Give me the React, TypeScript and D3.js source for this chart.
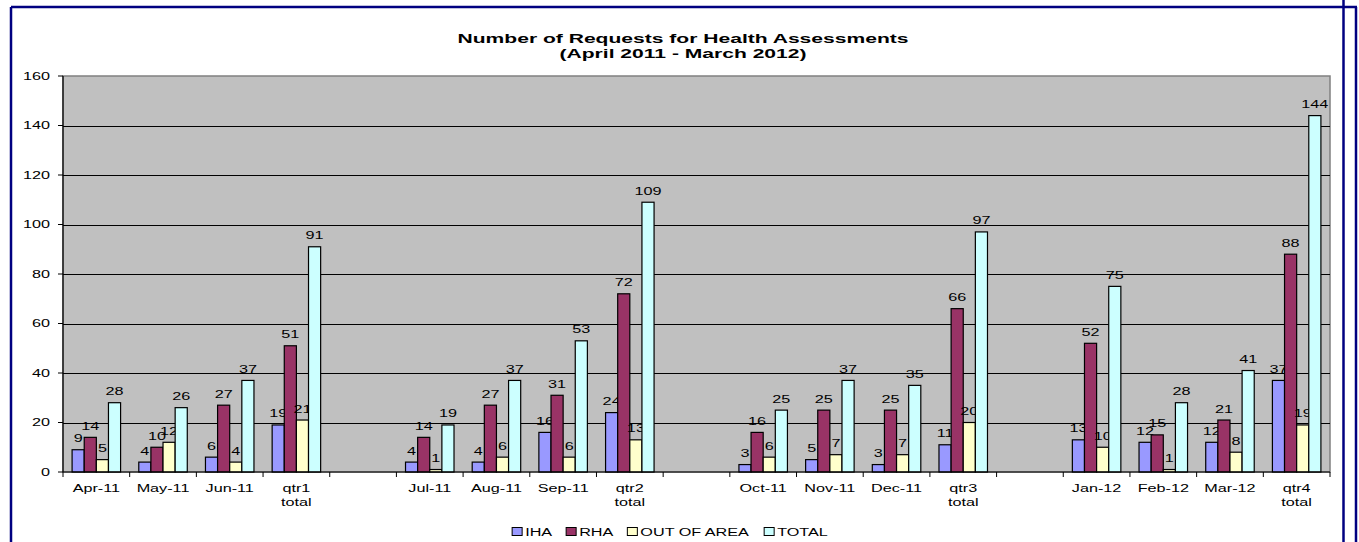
import React from "react";
import * as d3 from "d3";

// Monthly and quarterly request counts
const categories: string[][] = [
  ["Apr-11"], ["May-11"], ["Jun-11"], ["qtr1", "total"], [],
  ["Jul-11"], ["Aug-11"], ["Sep-11"], ["qtr2", "total"], [],
  ["Oct-11"], ["Nov-11"], ["Dec-11"], ["qtr3", "total"], [],
  ["Jan-12"], ["Feb-12"], ["Mar-12"], ["qtr4", "total"],
];

const seriesNames = ["IHA", "RHA", "OUT OF AREA", "TOTAL"];
const seriesColors = ["#9999FF", "#993366", "#FFFFCC", "#CCFFFF"];

const ihaValues: (number | null)[] = [9, 4, 6, 19, null, 4, 4, 16, 24, null, 3, 5, 3, 11, null, 13, 12, 12, 37];
const rhaValues: (number | null)[] = [14, 10, 27, 51, null, 14, 27, 31, 72, null, 16, 25, 25, 66, null, 52, 15, 21, 88];
const outOfAreaValues: (number | null)[] = [5, 12, 4, 21, null, 1, 6, 6, 13, null, 6, 7, 7, 20, null, 10, 1, 8, 19];
const totalValues: (number | null)[] = [28, 26, 37, 91, null, 19, 37, 53, 109, null, 25, 37, 35, 97, null, 75, 28, 41, 144];

const yTicks = [0, 20, 40, 60, 80, 100, 120, 140, 160];

const titleLines = ["Number of Requests for Health Assessments", "(April 2011 - March 2012)"];

const W = 1359;
const H = 542;
const SX = 1.62; // horizontal text stretch
const FONT = "'Liberation Sans', Arial, sans-serif";

const plot = { left: 63, right: 1330, top: 76, bottom: 472 };

function measure(text: string, size: number, weight = "normal"): number {
  const c = document.createElement("canvas").getContext("2d");
  if (!c) return text.length * size * 0.55;
  c.font = `${weight} ${size}px 'Liberation Sans', Arial, sans-serif`;
  return c.measureText(text).width;
}

function T(props: {
  x: number; y: number; children: React.ReactNode; size?: number; anchor?: string;
  weight?: string; fill?: string; dy?: string;
}) {
  const { x, y, children, size = 10, anchor = "middle", weight = "normal", fill = "#000", dy } = props;
  return (
    <text
      transform={`translate(${x},${y}) scale(${SX},1)`}
      textAnchor={anchor as any}
      fontFamily={FONT}
      fontSize={size}
      fontWeight={weight}
      fill={fill}
      dy={dy}
    >
      {children}
    </text>
  );
}

export default function App() {
  const seriesValues = [ihaValues, rhaValues, outOfAreaValues, totalValues];
  const idx = categories.map((_, i) => String(i));

  const x = d3.scaleBand<string>().domain(idx).range([plot.left, plot.right]).paddingInner(0).paddingOuter(0);
  const xs = d3.scaleBand<string>().domain(seriesNames).range([0, x.bandwidth()]).paddingInner(0).paddingOuter(0.75);
  const y = d3.scaleLinear().domain([0, 160]).range([plot.bottom, plot.top]);

  const boundaries = idx.map((k) => x(k) as number).concat([plot.right]);

  // legend layout
  const sq = 10;
  const legendItems = seriesNames.map((n) => ({ name: n, w: measure(n, 10) * SX }));
  const itemGap = 14;
  const textGap = 3;
  const legendWidth = d3.sum(legendItems, (d) => sq + textGap + d.w) + itemGap * (legendItems.length - 1);
  let lx = 670 - legendWidth / 2;
  const legendPos = legendItems.map((d) => {
    const p = { ...d, x: lx };
    lx += sq + textGap + d.w + itemGap;
    return p;
  });

  return (
    <svg width={W} height={H} style={{ position: "absolute", left: 0, top: 0, background: "#fff" }}>
      <rect x={0} y={0} width={W} height={H} fill="#fff" />

      {/* frame */}
      <g stroke="#000080" strokeWidth={2.5} fill="none">
        <line x1={11} y1={7} x2={1357} y2={7} />
        <line x1={11} y1={7} x2={11} y2={H} />
        <line x1={1343.5} y1={0} x2={1343.5} y2={H} />
        <line x1={1356} y1={7} x2={1356} y2={H} />
      </g>

      {/* title */}
      {titleLines.map((t, i) => (
        <T key={t} x={683} y={43 + i * 14.5} size={13} weight="bold">{t}</T>
      ))}

      {/* plot area */}
      <rect
        x={plot.left}
        y={plot.top}
        width={plot.right - plot.left}
        height={plot.bottom - plot.top}
        fill="#C0C0C0"
        stroke="#808080"
        strokeWidth={1.5}
      />

      {/* gridlines */}
      {yTicks.filter((t) => t > 0 && t < 160).map((t) => (
        <line key={t} x1={plot.left} x2={plot.right} y1={Math.round(y(t)) + 0.5} y2={Math.round(y(t)) + 0.5} stroke="#000" strokeWidth={1} />
      ))}

      {/* bars and data labels, series by series */}
      {seriesValues.map((vals, si) => (
        <g key={seriesNames[si]}>
          {vals.map((v, ci) => {
            if (v == null) return null;
            const bx = (x(String(ci)) as number) + (xs(seriesNames[si]) as number);
            return (
              <rect
                key={ci}
                x={bx}
                y={y(v)}
                width={xs.bandwidth()}
                height={y(0) - y(v)}
                fill={seriesColors[si]}
                stroke="#000"
                strokeWidth={1.2}
              />
            );
          })}
          {vals.map((v, ci) => {
            if (v == null) return null;
            const bx = (x(String(ci)) as number) + (xs(seriesNames[si]) as number) + xs.bandwidth() / 2;
            return (
              <T key={"l" + ci} x={bx} y={y(v) - 7.5} size={10}>{v}</T>
            );
          })}
        </g>
      ))}

      {/* y axis */}
      <line x1={plot.left} x2={plot.left} y1={plot.top} y2={plot.bottom} stroke="#000" strokeWidth={1.2} />
      {yTicks.map((t) => (
        <g key={t}>
          <line x1={plot.left - 5} x2={plot.left} y1={y(t)} y2={y(t)} stroke="#000" strokeWidth={1} />
          <T x={50} y={y(t)} anchor="end" dy="0.36em" size={10}>{t}</T>
        </g>
      ))}

      {/* x axis */}
      <line x1={plot.left} x2={plot.right} y1={plot.bottom} y2={plot.bottom} stroke="#000" strokeWidth={1.2} />
      {boundaries.map((bx, i) => (
        <line key={i} x1={bx} x2={bx} y1={plot.bottom} y2={plot.bottom + 5} stroke="#000" strokeWidth={1} />
      ))}
      {categories.map((lines, ci) => {
        const cx = (x(String(ci)) as number) + x.bandwidth() / 2;
        return lines.map((ln, li) => (
          <T key={ci + "-" + li} x={cx} y={492 + li * 13.5} size={10}>{ln}</T>
        ));
      })}

      {/* legend */}
      {legendPos.map((d, i) => (
        <g key={d.name}>
          <rect x={d.x} y={527.5} width={sq} height={8} fill={seriesColors[i]} stroke="#000" strokeWidth={1} />
          <T x={d.x + sq + textGap} y={536} anchor="start" size={10}>{d.name}</T>
        </g>
      ))}
    </svg>
  );
}
